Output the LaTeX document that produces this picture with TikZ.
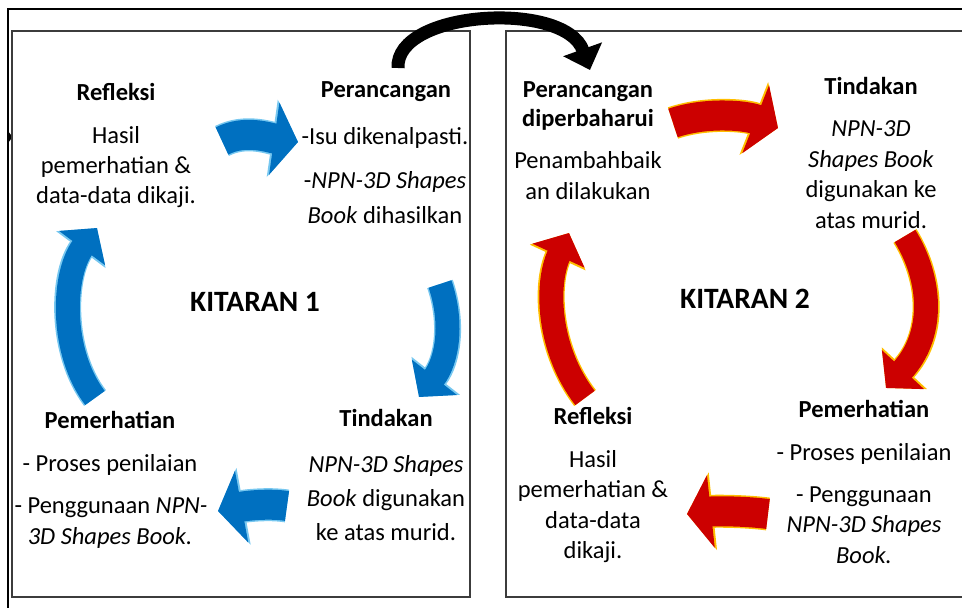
\documentclass[tikz,border=0pt]{standalone}
\usepackage{fontspec}
\setmainfont{Carlito}
\usetikzlibrary{arrows.meta}
\definecolor{bluefill}{RGB}{0,112,192}
\definecolor{blueedge}{RGB}{120,200,240}
\definecolor{redfill}{RGB}{204,0,0}
\definecolor{rededge}{RGB}{255,190,0}
\definecolor{boxline}{RGB}{60,60,60}
\begin{document}
\begin{tikzpicture}[x=1pt,y=-1pt,
  txt/.style={anchor=base,inner sep=0pt,font=\fontsize{24.5}{30}\selectfont},
  hd/.style={anchor=base,inner sep=0pt,font=\fontsize{24.5}{30}\selectfont\bfseries},
  cyc/.style={anchor=base,inner sep=0pt,font=\fontsize{29.5}{34}\selectfont\bfseries},
  panel/.style={draw=boxline,line width=1.3pt},
  hedge/.style={line width=33pt,-{Triangle[length=26pt,width=77pt]}},
  hmain/.style={line width=30pt,-{Triangle[length=24pt,width=72pt]}},
  vedge/.style={line width=27pt,-{Triangle[length=27pt,width=60pt]}},
  vmain/.style={line width=24pt,-{Triangle[length=25pt,width=56pt]}},
  blk/.style={draw=black,line width=13pt,-{Triangle[length=22pt,width=40pt]}}
]
\useasboundingbox (0,0) rectangle (962,608);
% frames
\draw[line width=2pt] (8,608) -- (8,9) -- (962,9);
\fill (8,131) -- (12.5,137) -- (8,143) -- cycle;
\draw[panel] (12,31) rectangle (470,597);
\draw[panel] (962,31) -- (506,31) -- (506,597) -- (962,597);

% arrow coordinates
\coordinate (a1s) at (222,141); \coordinate (a1p) at (245,129); \coordinate (a1q) at (270,138); \coordinate (a1e) at (298,142);
\coordinate (a2s) at (440,284); \coordinate (a2p) at (453,322); \coordinate (a2q) at (448,360); \coordinate (a2e) at (419,397);
\coordinate (a3s) at (287,506); \coordinate (a3p) at (268,503); \coordinate (a3q) at (245,506); \coordinate (a3e) at (218,511);
\coordinate (a4s) at (95,398); \coordinate (a4p) at (60,352); \coordinate (a4q) at (62,275); \coordinate (a4e) at (97,228);
\coordinate (b1s) at (673,123); \coordinate (b1p) at (705,112); \coordinate (b1q) at (745,115); \coordinate (b1e) at (778,128);
\coordinate (b2s) at (905,236); \coordinate (b2p) at (932,280); \coordinate (b2q) at (935,335); \coordinate (b2e) at (886,388);
\coordinate (b3s) at (768,514); \coordinate (b3p) at (745,511); \coordinate (b3q) at (715,511); \coordinate (b3e) at (687,514);
\coordinate (b4s) at (585,398); \coordinate (b4p) at (548,350); \coordinate (b4q) at (545,285); \coordinate (b4e) at (569,233);
\coordinate (ks) at (398,68); \coordinate (kp) at (395,10); \coordinate (kq) at (565,0); \coordinate (ke) at (590,70);

% blue arrows
\draw[hedge,draw=blueedge] (a1s) .. controls (a1p) and (a1q) .. (a1e);
\draw[hmain,draw=bluefill] (a1s) .. controls (a1p) and (a1q) .. (a1e);
\draw[vedge,draw=blueedge] (a2s) .. controls (a2p) and (a2q) .. (a2e);
\draw[vmain,draw=bluefill] (a2s) .. controls (a2p) and (a2q) .. (a2e);
\draw[hedge,draw=blueedge] (a3s) .. controls (a3p) and (a3q) .. (a3e);
\draw[hmain,draw=bluefill] (a3s) .. controls (a3p) and (a3q) .. (a3e);
\draw[vedge,draw=blueedge] (a4s) .. controls (a4p) and (a4q) .. (a4e);
\draw[vmain,draw=bluefill] (a4s) .. controls (a4p) and (a4q) .. (a4e);
% red arrows
\draw[hedge,draw=rededge] (b1s) .. controls (b1p) and (b1q) .. (b1e);
\draw[hmain,draw=redfill] (b1s) .. controls (b1p) and (b1q) .. (b1e);
\draw[vedge,draw=rededge] (b2s) .. controls (b2p) and (b2q) .. (b2e);
\draw[vmain,draw=redfill] (b2s) .. controls (b2p) and (b2q) .. (b2e);
\draw[hedge,draw=rededge] (b3s) .. controls (b3p) and (b3q) .. (b3e);
\draw[hmain,draw=redfill] (b3s) .. controls (b3p) and (b3q) .. (b3e);
\draw[vedge,draw=rededge] (b4s) .. controls (b4p) and (b4q) .. (b4e);
\draw[vmain,draw=redfill] (b4s) .. controls (b4p) and (b4q) .. (b4e);
% black arrow
\draw[blk] (ks) .. controls (kp) and (kq) .. (ke);

% left panel texts
\node[hd] (l1h) at (116,100) {Refleksi};
\node[txt] (l1a) at (116,143) {Hasil};
\node[txt] (l1b) at (116,173) {pemerhatian \&};
\node[txt] (l1c) at (116,203) {data-data dikaji.};
\node[hd] (l2h) at (386,97) {Perancangan};
\node[txt] (l2a) at (385,144) {-Isu dikenalpasti.};
\node[txt] (l2b) at (385,188) {-\textit{NPN-3D Shapes}};
\node[txt] (l2c) at (385,223) {\textit{Book} dihasilkan};
\node[cyc] (k1) at (255,311) {KITARAN 1};
\node[hd] (l3h) at (386,426) {Tindakan};
\node[txt] (l3a) at (386,472) {\textit{NPN-3D Shapes}};
\node[txt] (l3b) at (386,506) {\textit{Book} digunakan};
\node[txt] (l3c) at (386,540) {ke atas murid.};
\node[hd] (l4h) at (110,428) {Pemerhatian};
\node[txt] (l4a) at (110,471) {- Proses penilaian};
\node[txt] (l4b) at (111,513) {- Penggunaan \textit{NPN-}};
\node[txt] (l4c) at (110,544) {\textit{3D Shapes Book.}};
% right panel texts
\node[hd] (r1h) at (588,97) {Perancangan};
\node[hd] (r1i) at (588,126) {diperbaharui};
\node[txt] (r1a) at (588,168) {Penambahbaik};
\node[txt] (r1b) at (588,199) {an dilakukan};
\node[hd] (r2h) at (871,94) {Tindakan};
\node[txt] (r2a) at (871,136) {\textit{NPN-3D}};
\node[txt] (r2b) at (871,167) {\textit{Shapes Book}};
\node[txt] (r2c) at (871,197) {digunakan ke};
\node[txt] (r2d) at (871,228) {atas murid.};
\node[cyc] (k2) at (745,308) {KITARAN 2};
\node[hd] (r3h) at (864,417) {Pemerhatian};
\node[txt] (r3a) at (864,460) {- Proses penilaian};
\node[txt] (r3b) at (864,502) {- Penggunaan};
\node[txt] (r3c) at (864,532) {\textit{NPN-3D Shapes}};
\node[txt] (r3d) at (864,563) {\textit{Book.}};
\node[hd] (r4h) at (593,424) {Refleksi};
\node[txt] (r4a) at (593,467) {Hasil};
\node[txt] (r4b) at (593,497) {pemerhatian \&};
\node[txt] (r4c) at (593,528) {data-data};
\node[txt] (r4d) at (593,558) {dikaji.};
\end{tikzpicture}
\end{document}
